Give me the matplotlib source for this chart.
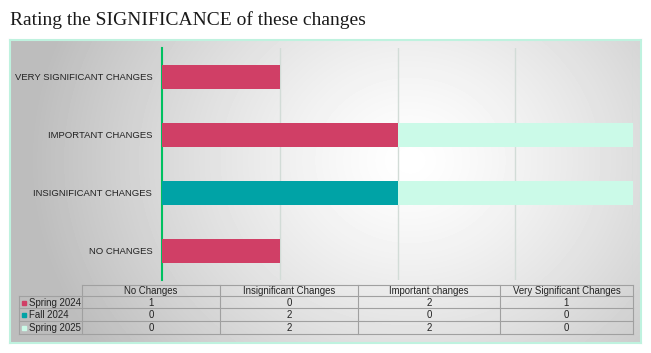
import numpy as np
import matplotlib.pyplot as plt
from matplotlib.patches import Rectangle

categories = ["NO CHANGES", "INSIGNIFICANT CHANGES", "IMPORTANT CHANGES", "VERY SIGNIFICANT CHANGES"]
col_labels = ["No Changes", "Insignificant Changes", "Important changes", "Very Significant Changes"]
series = ["Spring 2024", "Fall 2024", "Spring 2025"]
spring_2024 = [1, 0, 2, 1]
fall_2024 = [0, 2, 0, 0]
spring_2025 = [0, 2, 2, 0]
colors = ["#d03f66", "#00a3a6", "#cbfae8"]

W, H = 651, 353
fig = plt.figure(figsize=(W / 100, H / 100), dpi=100)
fig.patch.set_facecolor("white")


def fx(px):
    return px / W


def fy(py):
    return 1 - py / H


# background panel with radial gradient
bg = fig.add_axes([fx(10), fy(343), fx(631), (343 - 40) / H])
bg.set_xlim(0, 631)
bg.set_ylim(303, 0)
gx, gy = np.meshgrid(np.arange(631), np.arange(303))
d = np.sqrt(((gx - 400) / 380.0) ** 2 + ((gy - 120) / 330.0) ** 2)
shade = np.clip(1 - 0.26 * d ** 1.3, 0.74, 1)
bg.imshow(shade, cmap="gray", vmin=0, vmax=1, extent=(0, 631, 303, 0), aspect="auto")
bg.set_xticks([])
bg.set_yticks([])
for s in bg.spines.values():
    s.set_color("#bff2df")
    s.set_linewidth(1.5)

# title
fig.text(fx(10), fy(20), "Rating the SIGNIFICANCE of these changes", family="Liberation Serif",
         fontsize=14, va="center", ha="left", color="#1a1a1a")

# bars
ax = fig.add_axes([fx(162), fy(280), fx(633 - 162), (280 - 48) / H])
ax.patch.set_alpha(0)
y = np.arange(len(categories))
left = np.zeros(len(categories))
for name, vals, c in zip(series, [spring_2024, fall_2024, spring_2025], colors):
    ax.barh(y, vals, left=left, height=0.4, color=c, zorder=3)
    left += np.array(vals)
ax.set_xlim(0, 4)
ax.set_ylim(-0.5, 3.5)
ax.set_yticks(y)
ax.set_yticklabels(categories, family="Liberation Sans", fontsize=6.8, color="#222222")
ax.tick_params(axis="y", length=0, pad=7)
ax.set_xticks([1, 2, 3, 4])
ax.tick_params(axis="x", length=0, labelbottom=False)
ax.grid(axis="x", color="#d2dcd7", linewidth=1, zorder=0)
for s in ["top", "right", "bottom"]:
    ax.spines[s].set_visible(False)
ax.spines["left"].set_color("#00c060")
ax.spines["left"].set_linewidth(1.5)

# data table
tb = fig.add_axes([0, 0, 1, 1])
tb.set_xlim(0, W)
tb.set_ylim(H, 0)
tb.axis("off")
col_x = [82, 220, 358, 500, 633]
row_y = [285, 296, 308, 321, 334]
lc = "#a0a0a0"
tb.plot([col_x[0], col_x[-1]], [row_y[0], row_y[0]], color=lc, lw=0.8)
for ry in row_y[1:]:
    tb.plot([19, col_x[-1]], [ry, ry], color=lc, lw=0.8)
tb.plot([19, 19], [row_y[1], row_y[-1]], color=lc, lw=0.8)
for cx in col_x:
    tb.plot([cx, cx], [row_y[0], row_y[-1]], color=lc, lw=0.8)
for j, lab in enumerate(col_labels):
    tb.text((col_x[j] + col_x[j + 1]) / 2, (row_y[0] + row_y[1]) / 2 + 0.5, lab,
            ha="center", va="center", fontsize=6.9, family="Liberation Sans", color="#222222")
for i, (name, vals, c) in enumerate(zip(series, [spring_2024, fall_2024, spring_2025], colors)):
    cy = (row_y[i + 1] + row_y[i + 2]) / 2 + 0.5
    tb.add_patch(Rectangle((22, cy - 2), 4, 4, color=c))
    tb.text(29, cy, name, ha="left", va="center", fontsize=6.9, family="Liberation Sans", color="#222222")
    for j, v in enumerate(vals):
        tb.text((col_x[j] + col_x[j + 1]) / 2, cy, str(v), ha="center", va="center",
                fontsize=6.9, family="Liberation Sans", color="#222222")

fig.savefig("out.png", dpi=100)
